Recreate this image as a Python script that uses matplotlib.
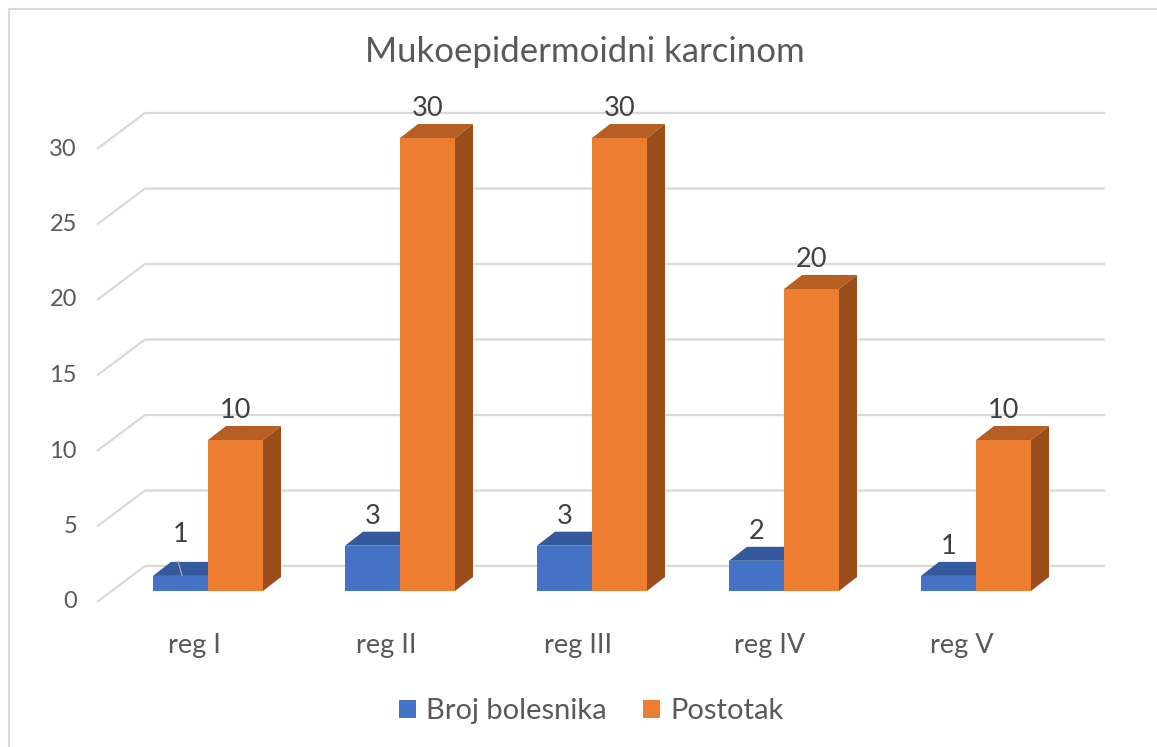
import numpy as np
import matplotlib
matplotlib.use("Agg")
import matplotlib.pyplot as plt
from matplotlib.patches import Polygon, Patch, Rectangle

plt.rcParams["font.family"] = ["Lato", "DejaVu Sans"]

title = "Mukoepidermoidni karcinom"
categories = ["reg I", "reg II", "reg III", "reg IV", "reg V"]
broj_bolesnika = [1, 3, 3, 2, 1]
postotak = [10, 30, 30, 20, 10]
series_names = ["Broj bolesnika", "Postotak"]
yticks = [0, 5, 10, 15, 20, 25, 30]

# colours: front, top, side
blue = ("#4472C4", "#34599C", "#2E4F8A")
orange = ("#ED7D31", "#B75E22", "#9A4E1B")
grid_c = "#D9D9D9"
tick_c = "#595959"
label_c = "#404040"

W, H = 1157, 747
fig = plt.figure(figsize=(W / 100, H / 100), dpi=100)
ax = fig.add_axes([0, 0, 1, 1])

# pixel layout of the Excel 3D plot area
x0_px, cat_px = 208, 192      # category boundary of first group, spacing
y0_px, val_px = 591, 15.1     # bar base, pixels per unit
ax.set_xlim(-x0_px / cat_px, (W - x0_px) / cat_px)
ax.set_ylim((y0_px - H) / val_px, y0_px / val_px)
ax.axis("off")

def px_x(p):
    return (p - x0_px) / cat_px

bar_w = 55 / cat_px
dx, dy = 18 / cat_px, 14 / val_px
xf, xb, xe = px_x(97), px_x(145), px_x(1105)
yf, yb = -11 / val_px, 25 / val_px

# back wall gridlines with the slanted floor/side edge
for v in yticks:
    ax.plot([xf, xb, xe], [v + yf, v + yb, v + yb], color=grid_c, lw=1.6,
            zorder=1, solid_capstyle="butt")
    ax.text(px_x(77), v + yf, str(v), ha="right", va="center",
            fontsize=17, color=tick_c)

x = np.arange(len(categories))

def bars3d(xs, vals, cols, z):
    ax.bar(xs, vals, width=bar_w, align="edge", color=cols[0], zorder=z + 0.2,
           lw=0)
    for xl, v in zip(xs, vals):
        xr = xl + bar_w
        top = Polygon([(xl, v), (xr, v), (xr + dx, v + dy), (xl + dx, v + dy)],
                      closed=True, color=cols[1], lw=0, zorder=z)
        side = Polygon([(xr, 0), (xr + dx, dy), (xr + dx, v + dy), (xr, v)],
                       closed=True, color=cols[2], lw=0, zorder=z + 0.1)
        ax.add_patch(top)
        ax.add_patch(side)

bars3d(x - bar_w, broj_bolesnika, blue, 2)
bars3d(x, postotak, orange, 3)

# data labels
for i, v in enumerate(broj_bolesnika):
    lift = 1.95
    if i == 0:
        lift = 2.75
        ax.plot([px_x(178), px_x(182)], [v + 0.95, v + 0.05], color="#A6A6A6",
                lw=1, zorder=5)
    ax.text(x[i] - bar_w / 2, v + lift, str(v), ha="center", va="center",
            fontsize=19.5, color=label_c, zorder=6)
for i, v in enumerate(postotak):
    ax.text(x[i] + bar_w / 2, v + 1.95, str(v), ha="center", va="center",
            fontsize=19.5, color=label_c, zorder=6)

# category labels on the front edge of the floor
for i, c in enumerate(categories):
    ax.text(x[i] - 14 / cat_px, (y0_px - 645) / val_px, c, ha="center",
            va="center", fontsize=19.5, color=tick_c)

fig.text(585 / W, 1 - 52 / H, title, ha="center", va="center", fontsize=25,
         color=tick_c)

handles = [Patch(facecolor=blue[0], edgecolor="none"),
           Patch(facecolor=orange[0], edgecolor="none")]
fig.legend(handles, series_names, loc="center", ncol=2, frameon=False,
           bbox_to_anchor=(591 / W, 1 - 711 / H), fontsize=21,
           labelcolor=tick_c, handlelength=0.58, handleheight=0.58,
           handletextpad=0.35, columnspacing=1.25)

# chart area border (right and bottom edges fall outside the crop)
fig.add_artist(Rectangle((8.5 / W, -0.1), 1.2, 1 - 8.5 / H + 0.1,
                         transform=fig.transFigure, fill=False,
                         edgecolor=grid_c, lw=1.5))

fig.savefig("out.png", dpi=100)
